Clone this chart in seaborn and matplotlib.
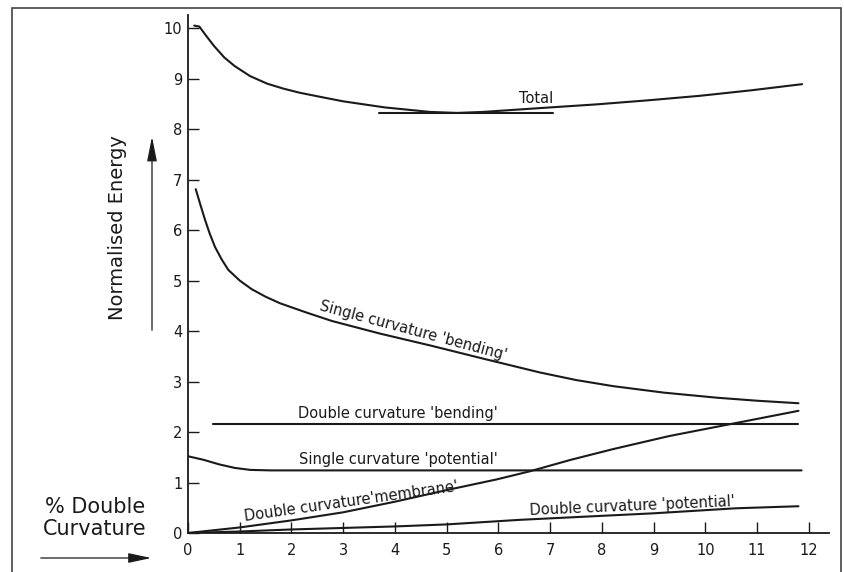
import numpy as np
import pandas as pd
import matplotlib
matplotlib.use("Agg")
import matplotlib.pyplot as plt
import seaborn as sns
from matplotlib.patches import Rectangle

# values
total_x = [0.12, 0.22, 0.35, 0.5, 0.7, 0.9, 1.2, 1.53, 1.85, 2.16, 2.6, 3.0, 3.8, 4.68, 5.2,
           5.7, 6.86, 7.9, 8.89, 9.9, 10.9, 11.87]
total_y = [10.05, 10.03, 9.85, 9.65, 9.42, 9.25, 9.05, 8.9, 8.8, 8.72, 8.63, 8.55, 8.43, 8.34, 8.32,
           8.34, 8.42, 8.49, 8.57, 8.66, 8.77, 8.89]

tangent_x = [3.69, 7.05]
tangent_y = [8.31, 8.31]

sc_bend_x = [0.15, 0.24, 0.33, 0.42, 0.52, 0.65, 0.78, 1.0, 1.23, 1.5, 1.78, 2.28, 2.78, 3.71,
             4.7, 5.64, 6.8, 7.5, 8.21, 9.2, 10.22, 11.0, 11.8]
sc_bend_y = [6.81, 6.5, 6.2, 5.93, 5.67, 5.42, 5.21, 5.0, 4.83, 4.68, 4.55, 4.37, 4.2, 3.95,
             3.71, 3.47, 3.18, 3.03, 2.91, 2.78, 2.68, 2.62, 2.57]

dc_bend_x = [0.48, 11.8]
dc_bend_y = [2.16, 2.16]

sc_pot_x = [0.0, 0.3, 0.6, 0.9, 1.2, 1.6, 11.86]
sc_pot_y = [1.52, 1.45, 1.36, 1.29, 1.25, 1.24, 1.24]

dc_memb_x = [0.0, 1.0, 2.0, 3.0, 4.0, 5.0, 5.96, 6.6, 7.4, 8.21, 9.3, 10.5, 11.8]
dc_memb_y = [0.0, 0.11, 0.25, 0.41, 0.62, 0.85, 1.06, 1.22, 1.45, 1.66, 1.92, 2.16, 2.42]

dc_pot_x = [0.0, 1.0, 2.0, 3.0, 4.0, 5.0, 6.4, 9.0, 10.6, 11.8]
dc_pot_y = [0.0, 0.03, 0.07, 0.1, 0.13, 0.17, 0.26, 0.39, 0.49, 0.53]

x_ticks = list(range(0, 13))
y_ticks = list(range(0, 11))

sns.set_style("ticks")
plt.rcParams['font.family'] = ['DejaVu Sans']

W, H = 845, 572
fig = plt.figure(figsize=(W / 100, H / 100), dpi=100)
ax = fig.add_axes([188 / W, 1 - 533 / H, (829 - 188) / W, (533 - 15) / H])

ink = '#1a1a1a'
series = [
    (total_x, total_y), (tangent_x, tangent_y), (sc_bend_x, sc_bend_y),
    (dc_bend_x, dc_bend_y), (sc_pot_x, sc_pot_y), (dc_memb_x, dc_memb_y),
    (dc_pot_x, dc_pot_y),
]
for xs, ys in series:
    sns.lineplot(x=xs, y=ys, ax=ax, color=ink, linewidth=1.5, sort=False, estimator=None)

ax.set_xlim(0, 12.39)
ax.set_ylim(0, 10.26)
ax.set_xticks(x_ticks)
ax.set_yticks(y_ticks)
ax.tick_params(axis='both', direction='in', length=8, width=1, colors=ink, labelsize=10.5)
ax.tick_params(axis='x', pad=7)
ax.tick_params(axis='y', pad=4)
sns.despine(ax=ax)
for s in ['left', 'bottom']:
    ax.spines[s].set_linewidth(1.3)
    ax.spines[s].set_color(ink)

# curve labels
lab = dict(color=ink, fontsize=10.5, ha='center', va='center', rotation_mode='anchor')
ax.text(6.73, 8.6, 'Total', **lab)
ax.text(4.35, 4.0, "Single curvature 'bending'", rotation=-15, **lab)
ax.text(4.06, 2.36, "Double curvature 'bending'", **lab)
ax.text(4.06, 1.46, "Single curvature 'potential'", **lab)
ax.text(3.15, 0.62, "Double curvature'membrane'", rotation=8, **lab)
ax.text(8.58, 0.54, "Double curvature 'potential'", rotation=2.5, **lab)

# axis captions and arrows drawn in figure space
fig.text(118 / W, 1 - 228 / H, 'Normalised Energy', rotation=90, ha='center', va='center',
         fontsize=14, color=ink)
fig.text(95 / W, 1 - 518 / H, '% Double\nCurvature', ha='center', va='center',
         fontsize=15, color=ink, linespacing=1.15)
ax.annotate('', xy=(152 / W, 1 - 134 / H), xytext=(152 / W, 1 - 333 / H),
            xycoords='figure fraction', textcoords='figure fraction', annotation_clip=False,
            arrowprops=dict(arrowstyle='-|>,head_length=1.5,head_width=0.3', color=ink, lw=0.9))
ax.annotate('', xy=(154 / W, 1 - 558 / H), xytext=(38 / W, 1 - 558 / H),
            xycoords='figure fraction', textcoords='figure fraction', annotation_clip=False,
            arrowprops=dict(arrowstyle='-|>,head_length=1.4,head_width=0.3', color=ink, lw=0.9))

# scan border
fig.add_artist(Rectangle((12 / W, -0.05), (841 - 12) / W, 1.05 - 8 / H,
                         transform=fig.transFigure, fill=False, edgecolor='#444444', lw=1.2))

fig.savefig('out.png', dpi=100, facecolor='white')
